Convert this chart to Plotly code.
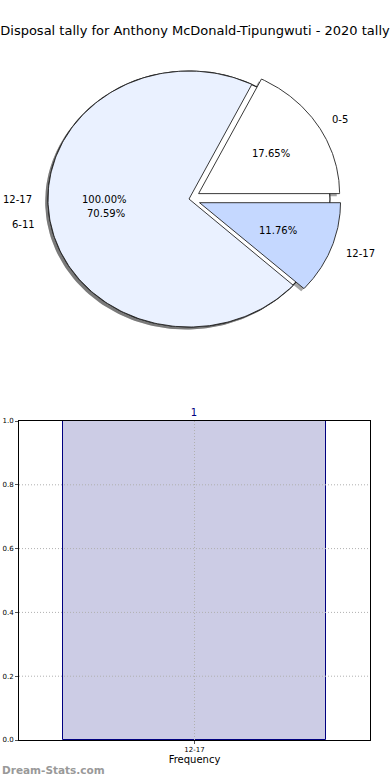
import numpy as np
import plotly.graph_objects as go

# ---------------- data ----------------
title_text = "Disposal tally for Anthony McDonald-Tipungwuti - 2020 tally"

outer_labels = ["12-17"]
outer_values = [1]
outer_colors = ["#ffffff"]

pie_labels = ["0-5", "6-11", "12-17"]
pie_values = [3, 12, 2]
pie_colors = ["#ffffff", "#eaf1ff", "#c5d8ff"]
pie_explode = [0.08, 0.0, 0.08]

bar_categories = ["12-17"]
bar_values = [1]
y_ticks = [0.0, 0.2, 0.4, 0.6, 0.8, 1.0]

# ---------------- layout helpers ----------------
W, H = 390, 780
FONT = "DejaVu Sans"


def fx(p):  # screen x pixel -> paper fraction
    return p / W


def fy(p):  # screen y pixel -> paper fraction
    return 1 - p / H


# pie drawn on its own axes where the unit radius is 141 px wide and 128 px tall
PX_X, PX_Y = 141.0, 128.0
CX, CY = 189.0, 199.0           # screen position of pie centre
PIE_TOP, PIE_BOT = 40.0, 360.0  # screen rows of pie axes domain
pie_xrange = [-CX / PX_X, (W - CX) / PX_X]
pie_yrange = [(CY - PIE_BOT) / PX_Y, (CY - PIE_TOP) / PX_Y]


def wedge_geometry(values, explode):
    vals = np.asarray(values, dtype=float)
    frac = vals / vals.sum()
    t2 = np.cumsum(frac) * 360.0
    t1 = t2 - frac * 360.0
    out = []
    for a, b, e, f in zip(t1, t2, explode, frac):
        mid = np.deg2rad((a + b) / 2.0)
        out.append((a, b, e * np.cos(mid), e * np.sin(mid), mid, f))
    return out


def wedge_path(a, b, cx, cy, full=False):
    th = np.deg2rad(np.linspace(a, b, 240))
    xs = cx + np.cos(th)
    ys = cy + np.sin(th)
    if not full:
        xs = np.concatenate([[cx], xs, [cx]])
        ys = np.concatenate([[cy], ys, [cy]])
    return xs, ys


fig = go.Figure()

outer_geo = wedge_geometry(outer_values, [0.0] * len(outer_values))
inner_geo = wedge_geometry(pie_values, pie_explode)

SH_DX, SH_DY = -0.02, -0.02
shadow_col = "rgba(77,77,77,0.5)"

# shadows (below every wedge)
for geo in (outer_geo, inner_geo):
    for (a, b, cx, cy, mid, f) in geo:
        xs, ys = wedge_path(a, b, cx + SH_DX, cy + SH_DY, full=(f >= 0.9999))
        fig.add_trace(go.Scatter(x=xs, y=ys, xaxis="x3", yaxis="y3", mode="lines",
                                 fill="toself", fillcolor=shadow_col,
                                 line=dict(width=0), hoverinfo="skip", showlegend=False))

# outer (100%) pie
for (a, b, cx, cy, mid, f), lab, col in zip(outer_geo, outer_labels, outer_colors):
    xs, ys = wedge_path(a, b, cx, cy, full=(f >= 0.9999))
    fig.add_trace(go.Scatter(x=xs, y=ys, xaxis="x3", yaxis="y3", mode="lines",
                             fill="toself", fillcolor=col,
                             line=dict(color="#222222", width=1.2),
                             name=lab, hoverinfo="name", showlegend=False))

# main pie
for (a, b, cx, cy, mid, f), lab, col in zip(inner_geo, pie_labels, pie_colors):
    xs, ys = wedge_path(a, b, cx, cy)
    fig.add_trace(go.Scatter(x=xs, y=ys, xaxis="x3", yaxis="y3", mode="lines",
                             fill="toself", fillcolor=col,
                             line=dict(color="#222222", width=0.9),
                             name=lab, hoverinfo="name", showlegend=False))

annotations = []
for geo, labels in ((outer_geo, outer_labels), (inner_geo, pie_labels)):
    for (a, b, cx, cy, mid, f), lab in zip(geo, labels):
        lx = cx + 1.1 * np.cos(mid)
        ly = cy + 1.1 * np.sin(mid)
        annotations.append(dict(x=lx, y=ly, xref="x3", yref="y3", text=lab,
                                showarrow=False, xanchor="left" if lx > 0 else "right",
                                yanchor="middle", font=dict(family=FONT, size=10, color="black")))
        px_ = cx + 0.6 * np.cos(mid)
        py_ = cy + 0.6 * np.sin(mid)
        annotations.append(dict(x=px_, y=py_, xref="x3", yref="y3", text="%.2f%%" % (f * 100),
                                showarrow=False, xanchor="center", yanchor="middle",
                                font=dict(family=FONT, size=10, color="black")))

# bar chart
fig.add_trace(go.Bar(x=bar_categories, y=bar_values, width=1.0,
                     marker=dict(color="#ccccE5", line=dict(color="#000080", width=1)),
                     text=[str(v) for v in bar_values], textposition="outside",
                     textfont=dict(family=FONT, size=10, color="#000080"),
                     cliponaxis=False, showlegend=False))

# dotted grid drawn above the bar (as matplotlib does)
grid_style = dict(color="#b0b0b0", width=1, dash="1px,2px")
shapes = []
for t in y_ticks[1:-1]:
    shapes.append(dict(type="line", xref="x domain", yref="y", x0=0, x1=1, y0=t, y1=t,
                       line=grid_style, layer="above"))
for c in bar_categories:
    shapes.append(dict(type="line", xref="x", yref="y domain", x0=c, x1=c, y0=0, y1=1,
                       line=grid_style, layer="above"))

annotations.append(dict(x=fx(0), y=fy(770), xref="paper", yref="paper",
                        text="Dream-Stats.com", showarrow=False, xanchor="left",
                        yanchor="middle",
                        font=dict(family=FONT, size=10.5, color="#999999", weight="bold")))

fig.update_layout(
    width=W, height=H,
    margin=dict(l=0, r=0, t=0, b=0),
    paper_bgcolor="white", plot_bgcolor="white",
    showlegend=False,
    title=dict(text=title_text, x=fx(195), xanchor="center", y=fy(30), yanchor="middle",
               xref="paper", yref="container", font=dict(family=FONT, size=13, color="black")),
    annotations=annotations,
    shapes=shapes,
    bargap=0,
    xaxis3=dict(domain=[0, 1], range=pie_xrange, anchor="y3", visible=False, fixedrange=True),
    yaxis3=dict(domain=[fy(PIE_BOT), fy(PIE_TOP)], range=pie_yrange, anchor="x3",
                visible=False, fixedrange=True),
    xaxis=dict(domain=[fx(19), fx(370)], anchor="y", type="category",
               range=[-0.665, 0.665], showline=True, mirror=True, linecolor="black",
               linewidth=1, showgrid=False,
               ticks="outside", ticklen=3, tickcolor="#555555",
               tickfont=dict(family=FONT, size=7, color="black"),
               title=dict(text="Frequency", standoff=2,
                          font=dict(family=FONT, size=10, color="black")),
               automargin=False, zeroline=False, layer="above traces"),
    yaxis=dict(domain=[fy(740), fy(421)], anchor="x", range=[0, 1],
               tickvals=y_ticks, tickformat=".1f", showline=True, mirror=True,
               linecolor="black", linewidth=1, showgrid=False,
               ticks="outside", ticklen=3, tickcolor="#555555",
               tickfont=dict(family=FONT, size=7, color="black"),
               automargin=False, zeroline=False, layer="above traces"),
)

fig.write_html("out.html", config={"displayModeBar": False},
               post_script="document.body.style.margin='0px';document.body.style.padding='0px';")
